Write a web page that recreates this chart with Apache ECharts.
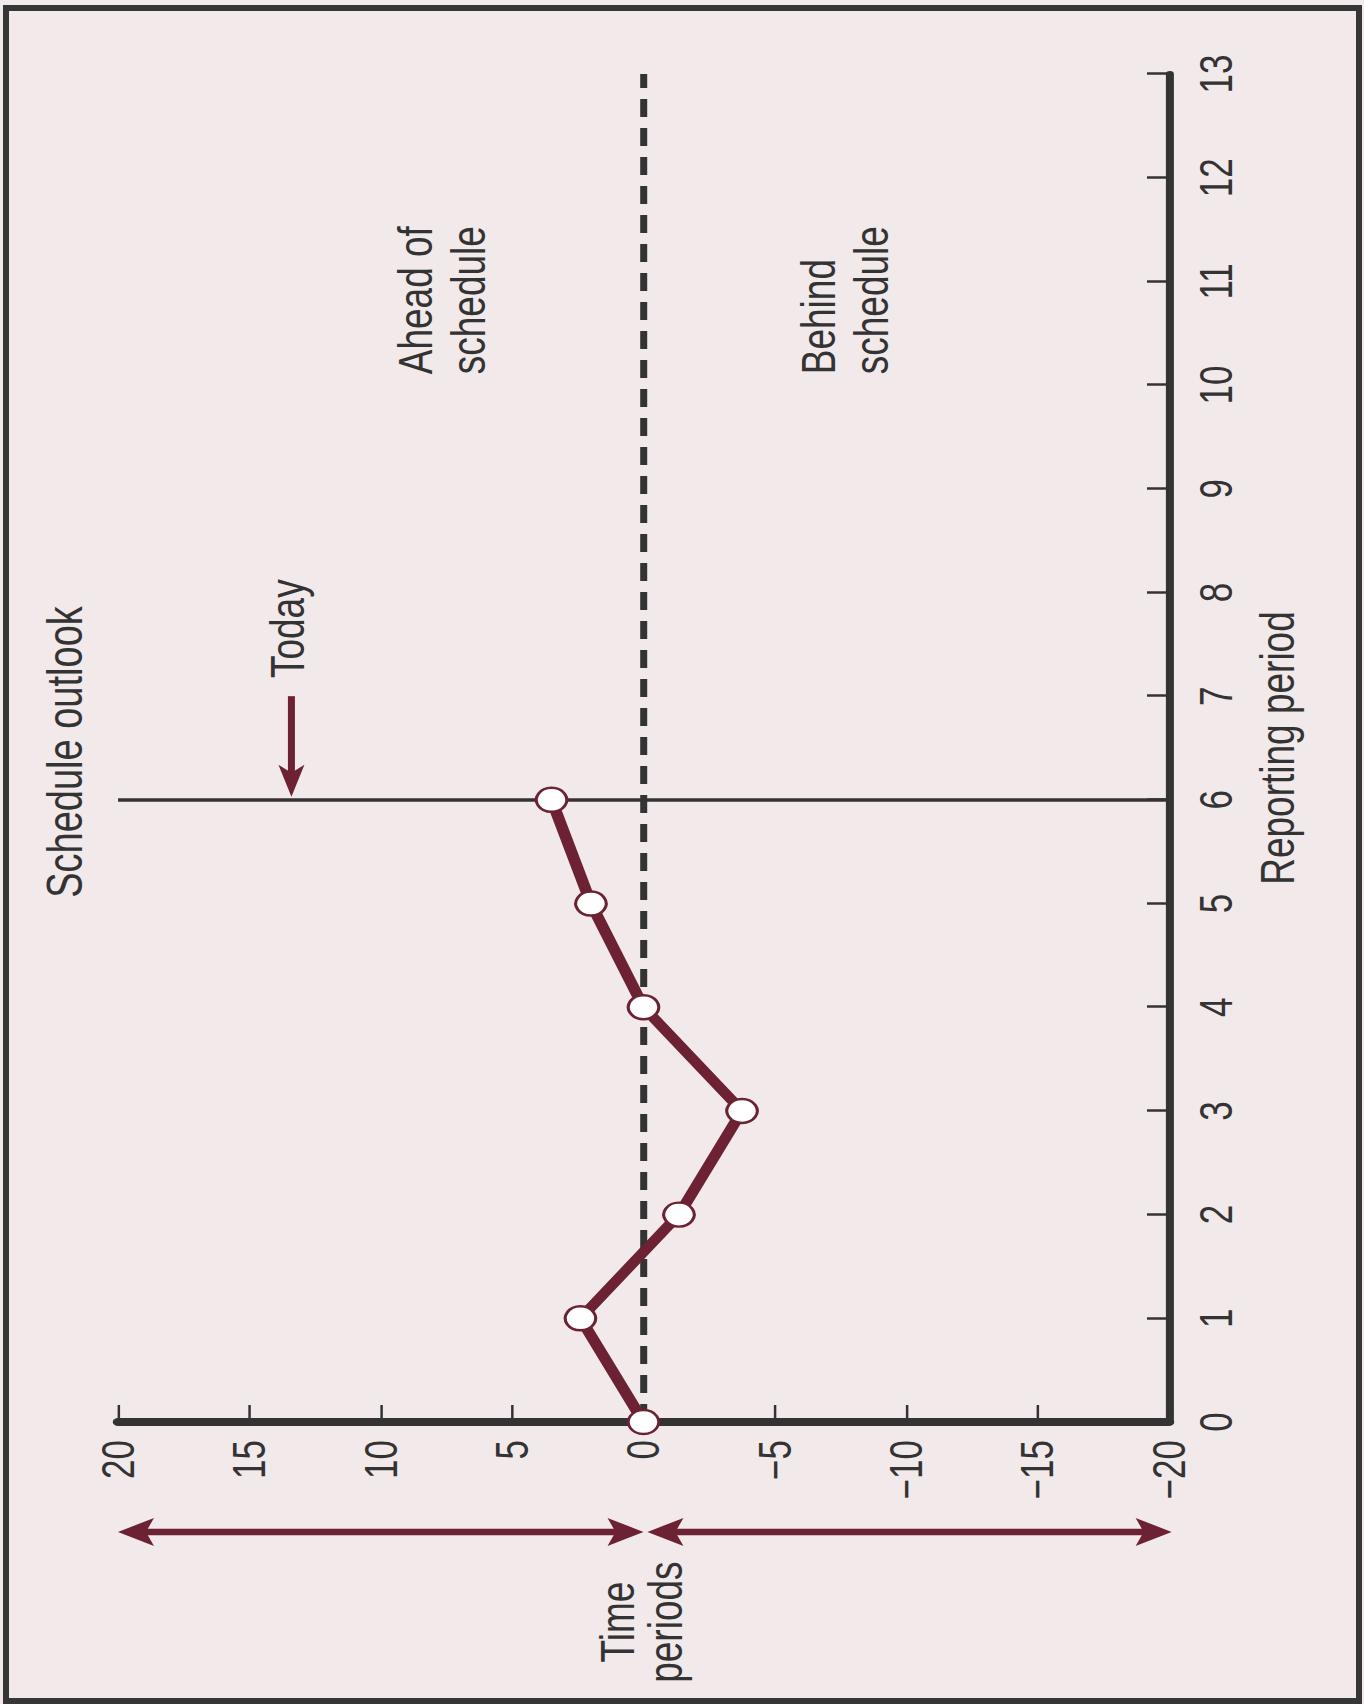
<!DOCTYPE html>
<html>
<head>
<meta charset="utf-8">
<script src="https://cdn.jsdelivr.net/npm/echarts/dist/echarts.min.js"></script>
<style>
html,body{margin:0;padding:0;background:#ffffff;}
#stage{position:absolute;left:0;top:0;width:1364px;height:1704px;overflow:hidden;background:#f2e9eb;}
#chart{position:absolute;left:0;top:0;width:1704px;height:1033px;transform-origin:0 0;}
#frame{position:absolute;left:3px;top:5px;width:1359px;height:1699px;border:6px solid #363636;box-sizing:border-box;pointer-events:none;}
</style>
</head>
<body>
<div id="stage"><div id="chart"></div><div id="frame"></div></div>
<script>
// ---------- data ----------
const periods   = [0, 1, 2, 3, 4, 5, 6];
const deviation = [0, 2.4, -1.35, -3.75, 0, 2.0, 3.5];
const todayPeriod = 6;
const xRange = [0, 13];
const xStep = 1;
const yRange = [-20, 20];
const yStep = 5;
const titleText = 'Schedule outlook';
const xAxisName = 'Reporting period';
const noteTexts  = ['Today', 'Ahead of\nschedule', 'Behind\nschedule', 'Time\nperiods'];
const notePoints = [[7.17, 13.55], [10.1, 7.68], [10.1, -7.66], [-1.93, 0.1]];
const arrowFrom  = [[7.0, 13.4], [-1.06, 0.0], [-1.06, -0.15]];
const arrowTo    = [[todayPeriod + 0.03, 13.4], [-1.06, 20.0], [-1.06, -20.1]];
const arrowBoth  = [false, true, true];

// ---------- layout ----------
const W = 1704, H = 1033;
const S = 1364 / H;            // vertical stretch applied by CSS
const chartDom = document.getElementById('chart');
chartDom.style.transform = 'translateY(1704px) rotate(-90deg) scaleY(' + S + ')';

const FONT = '"Liberation Sans", Arial, Helvetica, sans-serif';
const INK = '#333333';
const MAROON = '#6c2233';
const gridLeft = 282, gridRight = 74, gridTop = 118 / S, gridBottom = H - 1169 / S;

const chart = echarts.init(chartDom, null, {renderer: 'svg', width: W, height: H});

function fmtMinus(v) { return v < 0 ? '\u2212' + Math.abs(v) : String(v); }

const noteLabelBase = {show: true, fontSize: 37, color: INK, fontFamily: FONT, opacity: 1,
                       textBorderWidth: 0, textShadowBlur: 0};
const noteData = notePoints.map((p, i) => ({
  value: p,
  label: Object.assign({}, noteLabelBase, i === 3
    ? {position: 'inside', formatter: noteTexts[i], lineHeight: 36, align: 'center', verticalAlign: 'middle'}
    : {position: 'right', distance: 0, formatter: noteTexts[i], lineHeight: 40, align: 'left', verticalAlign: 'middle'})
}));

function renderArrow(params, api) {
  const i = params.dataIndex;
  const p1 = api.coord([api.value(0), api.value(1)]);
  const p2 = api.coord([api.value(2), api.value(3)]);
  const a = [p1[0], p1[1] * S], b = [p2[0], p2[1] * S];
  const dx = b[0] - a[0], dy = b[1] - a[1];
  const len = Math.hypot(dx, dy);
  const ux = dx / len, uy = dy / len, nx = -uy, ny = ux;
  const both = arrowBoth[i];
  const HL = both ? 36 : 32, HW = both ? 14 : 13, NOTCH = 8, T = both ? 6.5 : 7;
  function head(tip, dx_, dy_) {
    const bx = tip[0] - dx_ * HL, by = tip[1] - dy_ * HL;
    return [tip, [bx + nx * HW, by + ny * HW], [tip[0] - dx_ * (HL - NOTCH), tip[1] - dy_ * (HL - NOTCH)], [bx - nx * HW, by - ny * HW]];
  }
  const s0 = both ? [a[0] + ux * (HL - NOTCH - 1), a[1] + uy * (HL - NOTCH - 1)] : a;
  const s1 = [b[0] - ux * (HL - NOTCH - 1), b[1] - uy * (HL - NOTCH - 1)];
  const shaft = [[s0[0] + nx * T / 2, s0[1] + ny * T / 2], [s1[0] + nx * T / 2, s1[1] + ny * T / 2],
                 [s1[0] - nx * T / 2, s1[1] - ny * T / 2], [s0[0] - nx * T / 2, s0[1] - ny * T / 2]];
  const un = pts => pts.map(p => [p[0], p[1] / S]);
  const children = [
    {type: 'polygon', shape: {points: un(shaft)}, style: {fill: MAROON}},
    {type: 'polygon', shape: {points: un(head(b, ux, uy))}, style: {fill: MAROON}}
  ];
  if (both) children.push({type: 'polygon', shape: {points: un(head(a, -ux, -uy))}, style: {fill: MAROON}});
  return {type: 'group', children: children};
}

const option = {
  animation: false,
  backgroundColor: 'transparent',
  textStyle: {fontFamily: FONT},
  grid: {left: gridLeft, right: gridRight, top: gridTop, bottom: gridBottom, containLabel: false, outerBoundsMode: 'none'},
  graphic: [{
    type: 'text', x: 952, y: 30, silent: true,
    style: {text: titleText, font: '38px ' + FONT, fill: INK,
            align: 'center', textAlign: 'center', verticalAlign: 'top', textVerticalAlign: 'top'}
  }],
  xAxis: {
    type: 'value', min: xRange[0], max: xRange[1], interval: xStep,
    axisLine: {onZero: false, lineStyle: {color: INK, width: 8 / S}},
    axisTick: {inside: true, length: 22 / S, lineStyle: {color: INK, width: 2.5}},
    axisLabel: {margin: 18, fontSize: 35, color: INK, fontFamily: FONT},
    splitLine: {show: false},
    name: xAxisName, nameLocation: 'middle', nameGap: 63,
    nameTextStyle: {fontSize: 37, color: INK, fontFamily: FONT}
  },
  yAxis: {
    type: 'value', min: yRange[0], max: yRange[1], interval: yStep,
    axisLine: {onZero: false, lineStyle: {color: INK, width: 8}},
    axisTick: {inside: true, length: 17, lineStyle: {color: INK, width: 2.5 / S}},
    axisLabel: {margin: 18, fontSize: 35, color: INK, fontFamily: FONT, formatter: fmtMinus},
    splitLine: {show: false}
  },
  series: [
    {
      name: 'guides', type: 'line', data: [], z: 1, silent: true,
      markLine: {
        silent: true, symbol: ['none', 'none'], label: {show: false}, animation: false,
        data: [
          {yAxis: 0, lineStyle: {color: INK, width: 7 / S, type: [18, 11]}},
          {xAxis: todayPeriod, lineStyle: {color: INK, width: 3.5, type: 'solid'}}
        ]
      }
    },
    {
      name: 'Schedule variance', type: 'line', z: 5,
      data: periods.map((p, i) => [p, deviation[i]]),
      lineStyle: {color: MAROON, width: 9},
      symbol: 'circle', symbolSize: [24, 23],
      itemStyle: {color: '#ffffff', borderColor: MAROON, borderWidth: 2.4},
      showAllSymbol: true
    },
    {
      name: 'arrows', type: 'custom', coordinateSystem: 'cartesian2d', z: 4, silent: true, clip: false,
      data: arrowFrom.map((f, i) => [f[0], f[1], arrowTo[i][0], arrowTo[i][1]]),
      encode: {x: [0, 2], y: [1, 3]},
      renderItem: renderArrow
    },
    {
      name: 'notes', type: 'scatter', z: 6, silent: true, clip: false,
      symbol: 'circle', symbolSize: 1, itemStyle: {color: 'rgba(0,0,0,0)'},
      label: noteLabelBase,
      emphasis: {disabled: true},
      data: noteData
    }
  ]
};
chart.setOption(option);
</script>
</body>
</html>
